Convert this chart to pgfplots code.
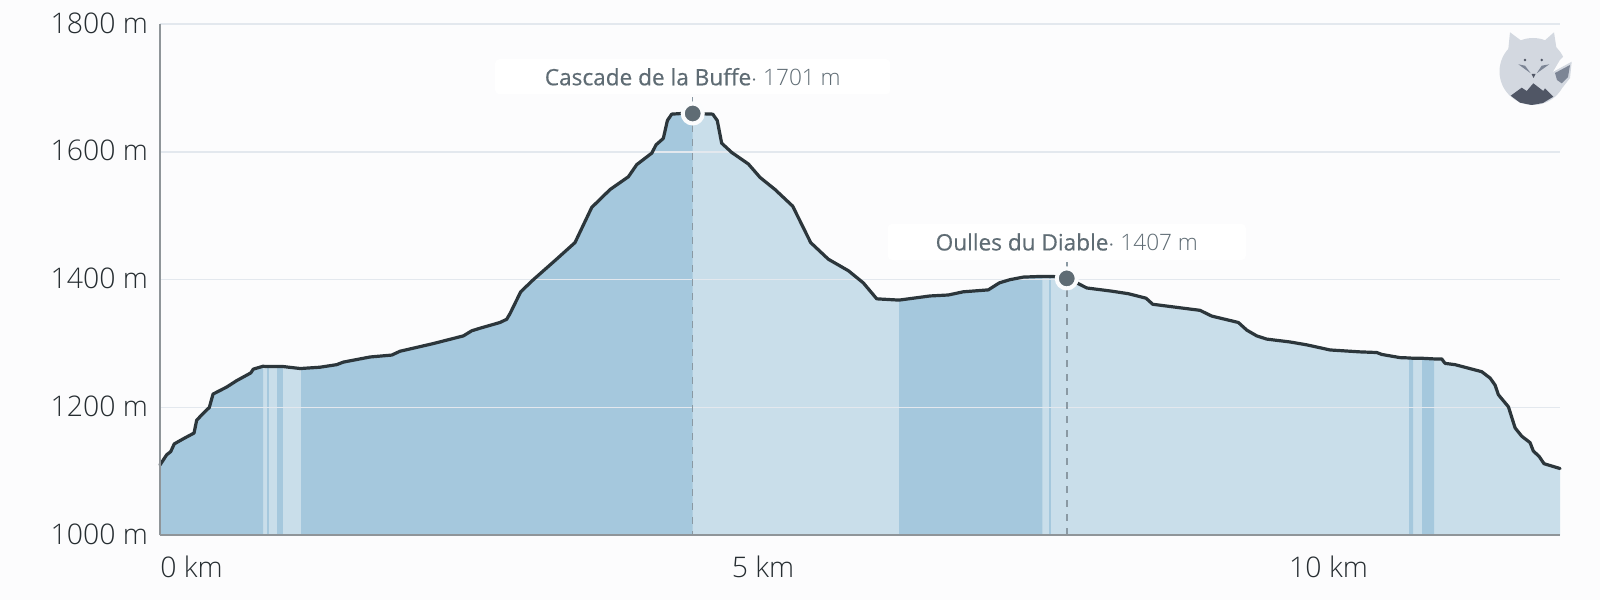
\documentclass[border=0pt]{standalone}
\usepackage{pgfplots}
\pgfplotsset{compat=1.18}
\usepackage{pgfplotstable}
\usepackage{fontspec}
\setmainfont{Open Sans Light}
\newfontfamily\medfont[FakeBold=0.5]{Open Sans}
\definecolor{bg}{HTML}{FCFCFD}
\definecolor{darkband}{HTML}{A5C8DD}
\definecolor{lightband}{HTML}{C9DEEA}
\definecolor{gridc}{HTML}{E3E8EE}
\definecolor{axisc}{HTML}{8F9599}
\definecolor{dropc}{HTML}{8A99A3}
\definecolor{linec}{HTML}{2C363B}
\definecolor{labelc}{HTML}{5F6C74}
\definecolor{ticktext}{HTML}{262D31}
\definecolor{foxc}{HTML}{D3D8E0}
\definecolor{foxd}{HTML}{505665}
\definecolor{foxt}{HTML}{7C8595}
\pgfplotstableread{
km m
0 1110
0.059 1126
0.095 1131
0.126 1143
0.206 1151
0.301 1160
0.324 1180
0.383 1191
0.436 1200
0.469 1221
0.590 1232
0.678 1242
0.802 1254
0.825 1260
0.911 1264.5
0.943 1264
0.966 1264
1.034 1264
1.090 1264
1.238 1261
1.247 1261
1.415 1263
1.562 1267
1.621 1271
1.857 1279
2.049 1282
2.122 1288
2.416 1300
2.682 1312
2.756 1320
2.829 1324
3.006 1333
3.065 1338
3.095 1347
3.189 1381
3.301 1400
3.493 1430
3.669 1458
3.817 1513
3.979 1541
4.141 1561
4.215 1580
4.348 1598
4.386 1611
4.450 1621
4.486 1649
4.524 1659
4.613 1660
4.710 1660
4.887 1659
4.927 1649
4.966 1613.5
5.055 1599
5.202 1581
5.305 1560
5.438 1541
5.594 1515
5.753 1458
5.909 1432
6.086 1414
6.218 1395
6.337 1370
6.534 1368
6.808 1374.5
6.970 1376
7.102 1381
7.323 1384
7.421 1395
7.515 1400
7.633 1404
7.781 1405
7.801 1405
7.863 1405
7.878 1405
7.899 1405
8.017 1402
8.105 1395
8.194 1387
8.415 1382
8.562 1378
8.718 1371
8.777 1361.5
9.195 1352
9.299 1343
9.534 1333
9.609 1321
9.697 1312
9.785 1307
9.991 1302.5
10.139 1298
10.345 1290
10.610 1287
10.758 1286
10.802 1283
10.964 1278
11.043 1277.5
11.079 1277
11.158 1277
11.264 1276
11.332 1276
11.362 1269
11.450 1267
11.686 1256
11.760 1246
11.804 1235
11.833 1220
11.922 1201
11.981 1168
12.040 1155
12.113 1145
12.142 1132
12.195 1123
12.237 1112
12.378 1104.5
}\profile
\pgfplotsset{
  band/.style 2 args={fill=darkband,draw=none,forget plot,restrict x to domain=#1:#2},
  gridl/.style={gridc,line width=0.8pt,forget plot},
  dropl/.style={color=dropc,line width=0.75pt,dash pattern=on 3.5pt off 3.5pt,forget plot},
}
\begin{document}
\begin{tikzpicture}
\useasboundingbox (0,0) rectangle (800pt,300pt);
\fill[bg] (0,0) rectangle (800pt,300pt);
\begin{axis}[
  at={(80pt,32.35pt)},anchor=south west,
  scale only axis,width=700pt,height=255.65pt,
  xmin=0,xmax=12.378,ymin=1000,ymax=1800,
  axis lines=left,
  axis line style={-,color=axisc,line width=1pt},
  axis on top,
  major tick length=0pt,
  xtick={0,5,10},
  xticklabels={\kern-6pt 0 km,5 km,10 km},
  ytick={1000,1200,1400,1600,1800},
  yticklabels={1000 m,1200 m,1400 m,1600 m,1800 m},
  tick label style={font=\fontsize{14.2}{16}\selectfont,text=ticktext},
  xticklabel style={xshift=18.75pt,yshift=-7pt},
  yticklabel style={xshift=-2.5pt,yshift=0.5pt},
  clip=false,
]
\addplot[fill=lightband,draw=none,forget plot] table[x=km,y=m]{\profile} \closedcycle;
\addplot[band={-0.001}{0.9111}] table[x=km,y=m]{\profile} \closedcycle;
\addplot[band={0.9429}{0.9661}] table[x=km,y=m]{\profile} \closedcycle;
\addplot[band={1.0339}{1.0901}] table[x=km,y=m]{\profile} \closedcycle;
\addplot[band={1.2469}{4.7101}] table[x=km,y=m]{\profile} \closedcycle;
\addplot[band={6.5339}{7.8011}] table[x=km,y=m]{\profile} \closedcycle;
\addplot[band={7.8629}{7.8781}] table[x=km,y=m]{\profile} \closedcycle;
\addplot[band={11.0429}{11.0791}] table[x=km,y=m]{\profile} \closedcycle;
\addplot[band={11.1579}{11.2641}] table[x=km,y=m]{\profile} \closedcycle;
\addplot[gridl] coordinates {(0,1200)(12.378,1200)};
\addplot[gridl] coordinates {(0,1400)(12.378,1400)};
\addplot[gridl] coordinates {(0,1600)(12.378,1600)};
\addplot[gridl] coordinates {(0,1800)(12.378,1800)};
\addplot[color=linec,line width=1.6pt,line join=round,line cap=round,forget plot] table[x=km,y=m]{\profile};
\addplot[dropl] coordinates {(4.710,1685.5)(4.710,1000)};
\addplot[dropl] coordinates {(8.017,1427)(8.017,1000)};
\addplot[only marks,mark=*,mark size=5pt,mark options={fill=labelc,draw=white!92!lightband,line width=2pt},forget plot] coordinates {(4.710,1660)(8.017,1402)};
\node[fill=white,rounded corners=2pt,minimum width=197.5pt,minimum height=17.5pt,inner sep=0pt,text=labelc,font=\fontsize{11.3}{14}\selectfont] at (axis cs:4.710,1717.5) {\raisebox{-0.8pt}{{\medfont Cascade de la Buffe}$\cdot$ 1701 m}};
\node[fill=white,rounded corners=2pt,minimum width=179pt,minimum height=18pt,inner sep=0pt,text=labelc,font=\fontsize{11.3}{14}\selectfont] at (axis cs:8.017,1459) {\raisebox{-0.8pt}{{\medfont Oulles du Diable}$\cdot$ 1407 m}};
\end{axis}
\begin{scope}[shift={(0,300pt)},x=0.5pt,y=-0.5pt]
\fill[foxc] (1533,71.5) circle (33.5);
\fill[foxc] (1510,32.3) -- (1508,52) -- (1523,42) -- cycle;
\fill[foxc] (1554,32.3) -- (1543,42) -- (1557,52) -- cycle;
\fill[bg] (1553,72) -- (1560,60) -- (1568,52) -- (1575,60) -- (1572,62) -- cycle;
\fill[foxc] (1553,72) -- (1571.7,61.7) -- (1570,78) -- (1563,87) -- (1553,92) -- cycle;
\fill[foxt] (1555,73) -- (1570,65) -- (1568,77) -- (1561.7,83.3) -- (1557,80) -- cycle;
\fill[foxd] (1510.7,95.7) -- (1521.7,87.7) -- (1526.7,91) -- (1533.3,83.3) -- (1543.3,91) -- (1545,88.3) -- (1553.3,96.7) -- (1543,103) -- (1531.7,105) -- (1520,102.7) -- cycle;
\fill[foxt] (1518.3,64.3) -- (1525,65.7) -- (1530.7,73.3) -- cycle;
\fill[foxt] (1549.3,64.3) -- (1541.7,65.7) -- (1536.7,73.3) -- cycle;
\fill[foxd] (1525,60) circle (1.3);
\fill[foxd] (1541.7,60) circle (1.3);
\fill[foxd] (1531.5,74) -- (1535.5,74) -- (1533.5,78) -- cycle;
\end{scope}
\end{tikzpicture}
\end{document}
